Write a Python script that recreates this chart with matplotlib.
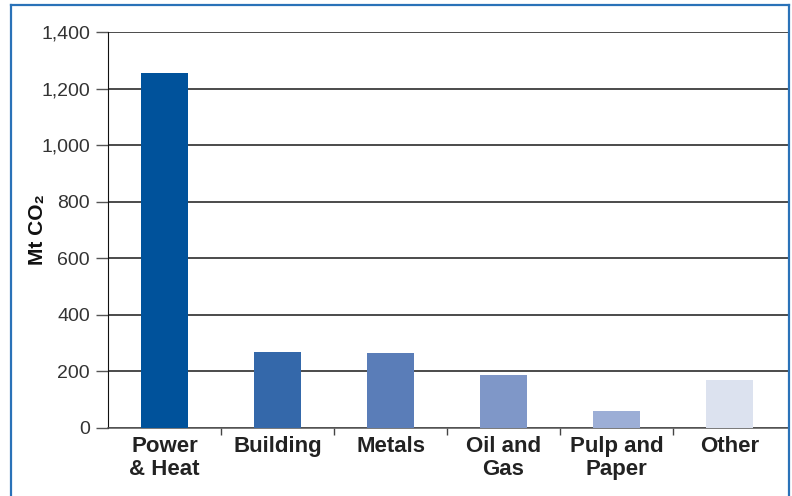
import matplotlib.pyplot as plt
from matplotlib.lines import Line2D

sectores = ['Power\n& Heat', 'Building', 'Metals', 'Oil and\nGas', 'Pulp and\nPaper', 'Other']
emisiones = [1255, 268, 264, 187, 59, 170]
colores = ['#00529b', '#3468aa', '#5a7db8', '#7f97c8', '#9caed6', '#dce2ef']

plt.rcParams['font.family'] = ['Liberation Sans', 'DejaVu Sans']

fig = plt.figure(figsize=(7.92, 4.96), dpi=100)
ax = fig.add_axes([108/792, 1 - 428/496, (789 - 108)/792, (428 - 32)/496])

x = list(range(len(sectores)))
ax.bar(x, emisiones, width=0.41, color=colores, zorder=3)

ax.set_xlim(-0.5, 5.5 + 3/113)
ax.set_ylim(0, 1400)
ax.set_yticks(range(0, 1401, 200))
ax.set_yticklabels([f'{v:,}' for v in range(0, 1401, 200)], fontsize=14, color='#333333')
ax.yaxis.grid(True, color='#1a1a1a', linewidth=1.1, zorder=0)

# ticks entre categorias
ax.set_xticks([i + 0.5 for i in range(len(sectores) - 1)])
ax.set_xticklabels([])
ax.tick_params(axis='x', length=5, width=1, color='#444444', direction='out')
ax.tick_params(axis='y', length=9, width=1, color='#555555', pad=4)

for i, s in enumerate(sectores):
    ax.text(i, -28, s, ha='center', va='top', fontsize=16, fontweight='bold',
            color='#222222', linespacing=1.15)

ax.set_ylabel('Mt CO₂', fontsize=15, fontweight='bold', color='#111111')
ax.yaxis.set_label_coords(-0.09, 0.5)

for lado in ['top', 'right']:
    ax.spines[lado].set_visible(False)
ax.spines['left'].set_color('#111111')
ax.spines['bottom'].set_color('#555555')
ax.spines['bottom'].set_linewidth(1.1)

# marco azul
borde = '#2a72b8'
fig.add_artist(Line2D([11/792, 11/792], [0, 1 - 5/496], color=borde, lw=1.6))
fig.add_artist(Line2D([789/792, 789/792], [0, 1 - 5/496], color=borde, lw=1.6))
fig.add_artist(Line2D([11/792, 789/792], [1 - 5/496, 1 - 5/496], color=borde, lw=1.6))

plt.savefig('out.png', dpi=100)
